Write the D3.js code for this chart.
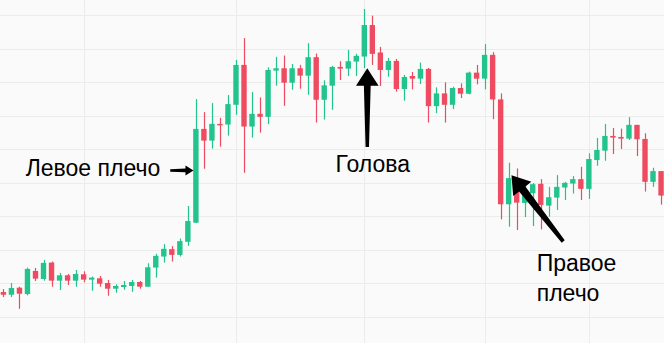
<!DOCTYPE html>
<html>
<head>
<meta charset="utf-8">
<script src="https://cdn.jsdelivr.net/npm/d3@7/dist/d3.min.js"></script>
<style>
    body { margin: 0; background: #fafafa; }
    svg { display: block; }
</style>
</head>
<body>
<svg width="664" height="343"></svg>
<script>
// OHLC series, one entry per candle
var opens  = [107.3,106.5,108.6,106.7,113.6,111.2,116.1,110.7,112.3,110.7,112.6,111.0,111.4,110.0,108.3,108.8,109.1,110.3,108.9,114.6,
              117.9,120.1,118.4,122.3,128.0,156.0,152.5,157.5,157.3,163.2,175.1,156.7,160.5,159.6,173.4,174.1,169.8,174.1,171.9,177.4,
              164.7,168.9,174.5,174.0,176.1,177.6,187.0,178.8,173.6,176.3,167.9,171.8,171.0,173.9,162.8,166.6,163.2,168.2,166.5,172.8,
              171.0,178.1,164.8,133.5,138.4,133.9,136.8,139.6,133.1,135.5,138.5,139.7,141.0,138.1,146.7,149.5,153.9,153.6,153.1,157.2,
              153.0,140.2,143.4];
var highs  = [108.2,110.0,108.9,114.6,114.5,116.9,116.4,113.0,112.7,113.9,113.5,111.9,112.1,110.9,109.6,110.6,110.9,110.6,115.9,118.7,
              121.6,121.0,123.3,133.0,164.9,161.0,163.7,159.3,166.1,176.6,183.1,167.0,165.4,174.4,177.5,177.9,175.4,175.1,181.6,178.5,
              170.5,174.8,176.2,179.6,178.4,191.8,189.8,180.5,177.2,176.9,172.1,173.0,175.8,174.2,168.4,169.9,168.6,169.6,173.1,175.1,
              181.3,178.9,166.6,145.9,144.2,139.3,139.8,141.0,138.7,142.2,140.2,141.9,144.7,148.7,153.3,157.5,156.3,156.1,159.5,157.2,
              154.7,144.4,143.4];
var lows   = [105.8,105.8,102.3,106.3,110.6,110.7,108.9,107.9,109.4,108.9,110.2,107.7,108.9,106.2,107.1,108.0,107.4,108.3,108.9,111.6,
              116.1,116.4,117.9,121.1,127.9,144.1,150.1,150.7,154.0,160.2,142.9,153.4,154.9,157.4,168.9,162.9,167.7,168.0,166.2,157.9,
              158.8,161.7,170.6,171.8,171.8,174.1,175.1,168.8,171.6,167.1,164.4,167.8,169.4,157.9,160.7,157.9,161.9,165.2,166.3,169.3,
              167.8,158.9,129.0,126.8,125.8,129.7,127.0,126.0,129.8,131.8,134.8,136.7,134.8,135.1,145.0,146.5,148.5,150.0,152.7,147.9,
              137.3,138.7,133.4];
var closes = [106.5,108.5,106.8,114.2,111.3,116.0,110.7,112.3,110.7,112.7,111.0,111.6,109.8,108.3,109.1,109.4,110.3,108.9,114.7,118.1,
              120.2,118.4,122.5,128.5,156.0,152.5,157.5,157.1,163.4,175.1,156.7,160.5,159.6,173.6,174.1,169.8,174.1,171.9,177.4,164.7,
              169.0,174.5,174.0,176.2,177.8,187.0,178.4,173.6,176.3,167.9,171.5,171.0,173.9,162.8,166.6,163.2,168.2,166.5,172.8,171.0,
              178.1,164.8,133.5,141.3,134.0,136.9,139.5,133.3,135.6,138.7,139.9,141.0,138.1,147.0,149.7,153.9,153.4,153.1,157.2,152.9,
              140.2,143.4,136.1];

// price grid and time grid (candle index of each vertical line)
var priceTicks = [100, 110, 120, 130, 140, 150, 160, 170, 180, 190];
var timeTicks = [10, 29, 45, 60, 73];

// annotations, placed in candle index / price units
var labels = [
    {text: 'Левое плечо', idx: 19.55, price: 141.9, anchor: 'end'},
    {text: 'Голова', idx: 46.05, price: 143.1, anchor: 'middle'},
    {text: 'Правое', idx: 66.5, price: 113.7, anchor: 'start'},
    {text: 'плечо', idx: 66.5, price: 104.7, anchor: 'start'}
];
var arrows = [
    {from: [20.8, 143.6], to: [23.7, 143.6], tail: 1.3, neck: 1.9, head: 5, headLen: 8},
    {from: [45.37, 150.6], to: [45.37, 174.1], tail: 1.7, neck: 3.4, head: 11.3, headLen: 17.4},
    {from: [69.8, 122.4], to: [63.35, 142.2], tail: 1.9, neck: 4, head: 11.5, headLen: 17.5}
];

var svg = d3.select('svg');
var width = +svg.attr('width');
var height = +svg.attr('height');

var candles = opens.map(function(o, i) {
    return {i: i, open: o, high: highs[i], low: lows[i], close: closes[i]};
});

var x = d3.scaleBand()
    .domain(d3.range(candles.length))
    .range([-0.6, -0.6 + candles.length * 8.02])
    .paddingInner(0.33).paddingOuter(0.165);
var xc = function(i) { return x(0) + x.step() * i + x.bandwidth() / 2; };
var y = d3.scaleLinear().domain([100, 190]).range([316.5, 15]);

var up = '#22c38d';
var down = '#ee4a60';

svg.append('rect').attr('width', width).attr('height', height).attr('fill', '#fafafa');

// grid
var grid = svg.append('g').attr('stroke', '#ececec').attr('stroke-width', 1);
grid.selectAll('.hline').data(priceTicks).enter().append('line')
    .attr('x1', 0).attr('x2', width)
    .attr('y1', d => Math.round(y(d)) + 0.5).attr('y2', d => Math.round(y(d)) + 0.5);
grid.selectAll('.vline').data(timeTicks).enter().append('line')
    .attr('y1', 0).attr('y2', height)
    .attr('x1', d => Math.round(xc(d)) + 0.5).attr('x2', d => Math.round(xc(d)) + 0.5);

// candles
var candleG = svg.append('g').selectAll('.candle')
    .data(candles).enter().append('g').attr('class', 'candle')
    .attr('fill', d => d.close >= d.open ? up : down)
    .attr('stroke', d => d.close >= d.open ? up : down);

candleG.append('line')
    .attr('x1', d => Math.round(xc(d.i)) + 0.5).attr('x2', d => Math.round(xc(d.i)) + 0.5)
    .attr('y1', d => y(d.high)).attr('y2', d => y(d.low))
    .attr('stroke-width', 1.2);

candleG.append('rect')
    .attr('stroke', 'none')
    .attr('x', d => x(d.i))
    .attr('width', x.bandwidth())
    .attr('y', d => y(Math.max(d.open, d.close)))
    .attr('height', d => Math.max(1.5, Math.abs(y(d.open) - y(d.close))));

// tapered arrows
function arrowPoints(a) {
    var x1 = xc(a.from[0]), y1 = y(a.from[1]);
    var x2 = xc(a.to[0]), y2 = y(a.to[1]);
    var len = Math.hypot(x2 - x1, y2 - y1);
    var ux = (x2 - x1) / len, uy = (y2 - y1) / len;
    var nx = -uy, ny = ux;
    var bx = x2 - ux * a.headLen, by = y2 - uy * a.headLen;
    return [
        [x1 + nx * a.tail, y1 + ny * a.tail],
        [bx + nx * a.neck, by + ny * a.neck],
        [bx + nx * a.head, by + ny * a.head],
        [x2, y2],
        [bx - nx * a.head, by - ny * a.head],
        [bx - nx * a.neck, by - ny * a.neck],
        [x1 - nx * a.tail, y1 - ny * a.tail]
    ];
}

svg.append('g').selectAll('polygon').data(arrows).enter().append('polygon')
    .attr('points', d => arrowPoints(d).map(p => p.join(',')).join(' '))
    .attr('fill', '#000');

svg.append('g').selectAll('text').data(labels).enter().append('text')
    .attr('x', d => xc(d.idx)).attr('y', d => y(d.price))
    .attr('text-anchor', d => d.anchor)
    .attr('font-family', '"Liberation Sans", Arial, sans-serif')
    .attr('font-size', '23px')
    .attr('fill', '#000')
    .text(d => d.text);
</script>
</body>
</html>
